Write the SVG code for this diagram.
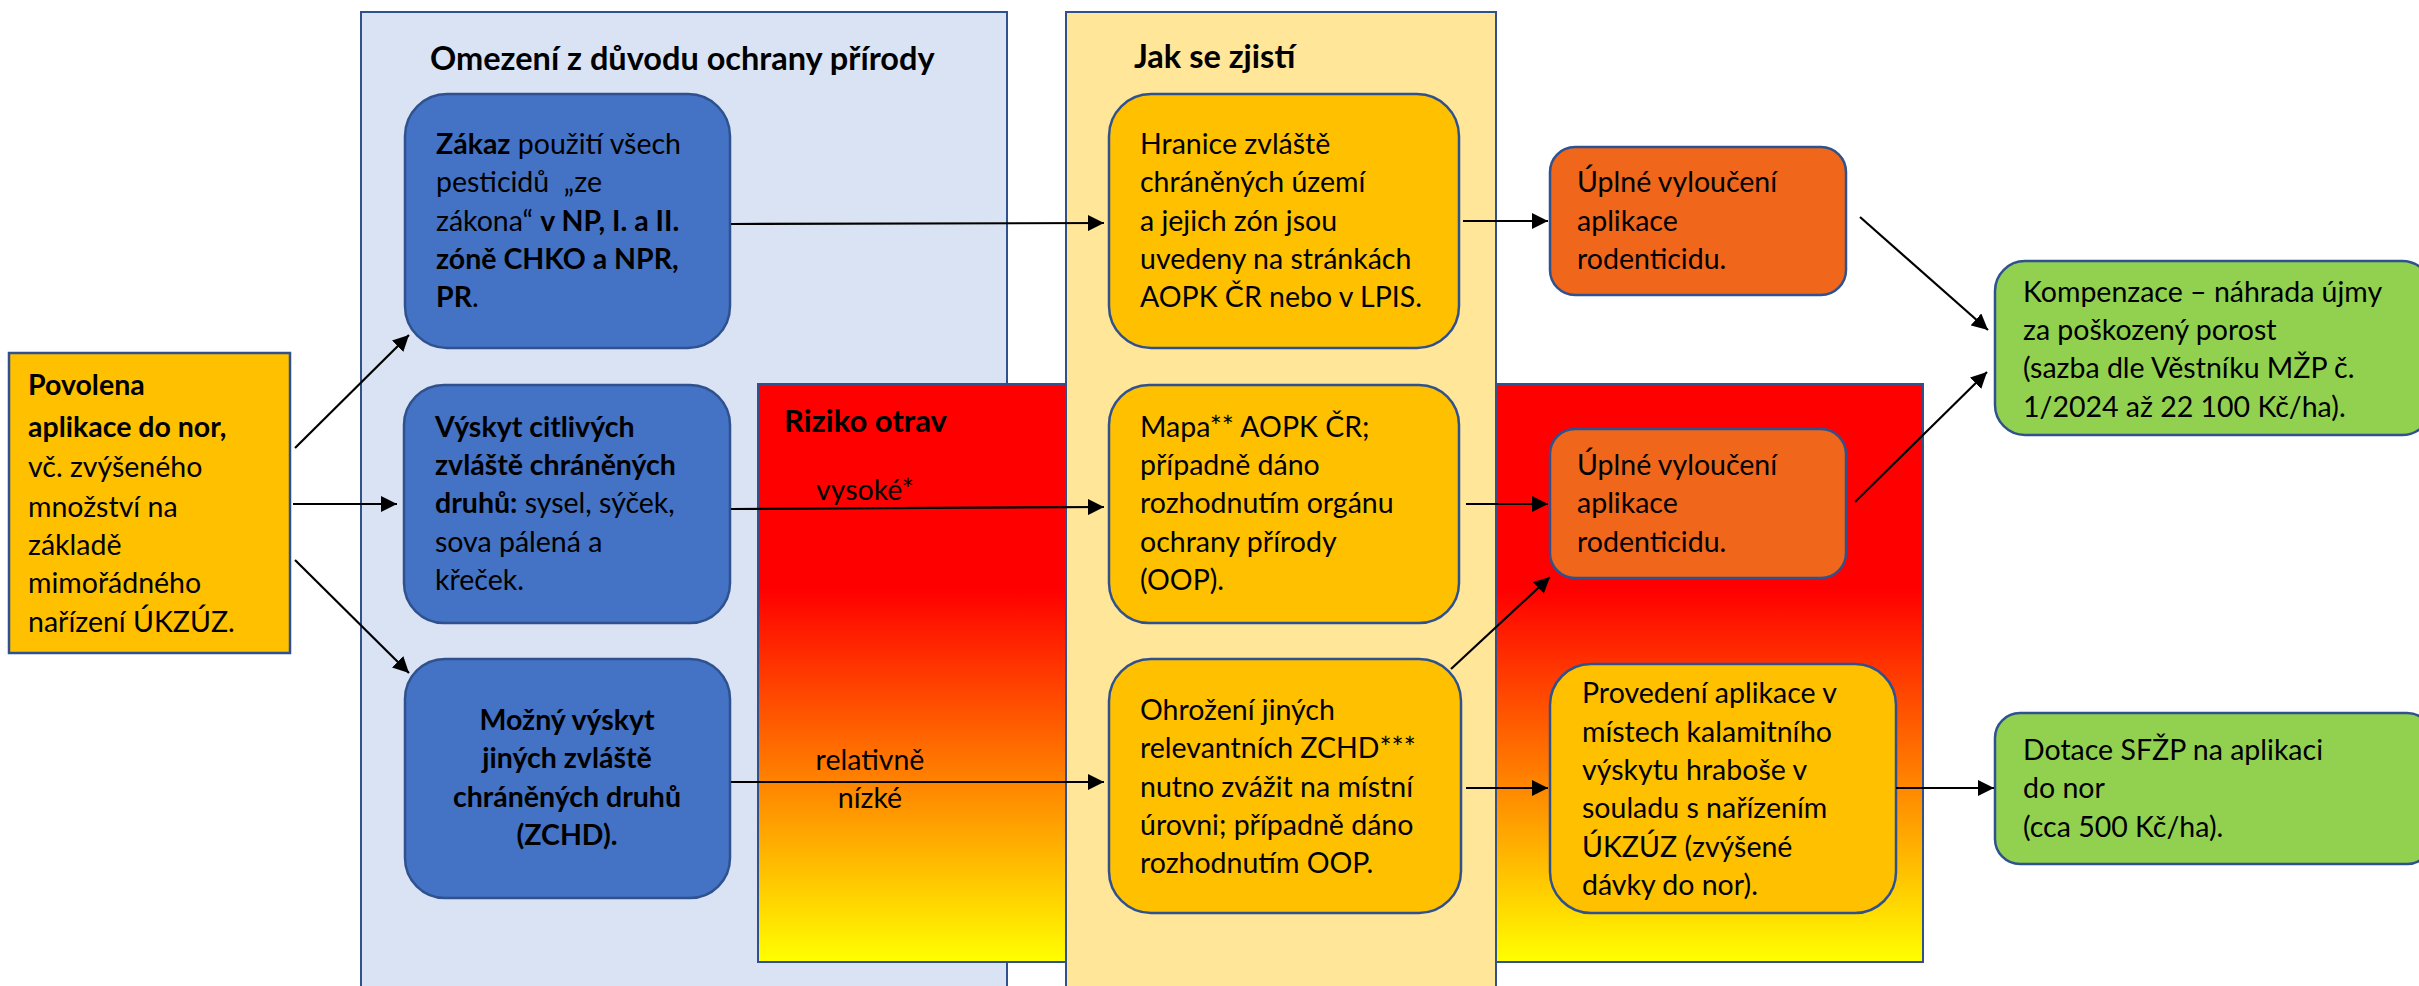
<svg xmlns="http://www.w3.org/2000/svg" width="2419" height="986" viewBox="0 0 2419 986">
<defs>
<linearGradient id="risk" x1="0" y1="0" x2="0" y2="1">
<stop offset="0" stop-color="#FF0000"/>
<stop offset="0.356" stop-color="#FF0000"/>
<stop offset="1" stop-color="#FFFF00"/>
</linearGradient>
<marker id="ah" markerUnits="userSpaceOnUse" markerWidth="16" markerHeight="16" viewBox="0 0 10 10" refX="10" refY="5" orient="auto">
<path d="M0,0 L10,5 L0,10 z" fill="#000"/>
</marker>
<style>
text{font-family:Lato,"Liberation Sans",sans-serif;font-size:28.5px;fill:#000}
.b{font-weight:bold}
.title{font-weight:bold;font-size:32.5px}
.rt{font-weight:bold;font-size:31px}
.panel{stroke:#2F528F;stroke-width:2}
.node{stroke:#2F528F;stroke-width:2.5}
.blue{fill:#4472C4}
.amber{fill:#FFC000}
.org{fill:#F0661A}
.green{fill:#92D050}
.c{text-anchor:middle}
.conn line{stroke:#000;stroke-width:2.2;marker-end:url(#ah)}
</style>
</defs>
<rect width="2419" height="986" fill="#fff"/>

<g id="panel-omezeni">
<rect class="panel" x="361" y="12" width="646" height="990" fill="#DAE3F3"/>
<text class="title" x="430" y="70">Omezení z důvodu ochrany přírody</text>
</g>

<g id="panel-riziko">
<rect class="panel" x="758" y="384" width="1165" height="578" fill="url(#risk)"/>
<text class="rt" x="784" y="432">Riziko otrav</text>
<text x="816" y="500">vysoké*</text>
<text class="c" x="870" y="770">relativně</text>
<text class="c" x="870" y="808">nízké</text>
</g>

<g id="panel-jak">
<rect class="panel" x="1066" y="12" width="430" height="990" fill="#FFE699"/>
<text class="title" x="1134" y="68">Jak se zjistí</text>
</g>

<g id="node-povolena">
<rect class="node amber" x="9" y="353" width="281" height="300"/>
<text x="28" y="395" class="b">Povolena</text>
<text x="28" y="437" class="b">aplikace do nor,</text>
<text x="28" y="477">vč. zvýšeného</text>
<text x="28" y="517">množství na</text>
<text x="28" y="555">základě</text>
<text x="28" y="593">mimořádného</text>
<text x="28" y="632">nařízení ÚKZÚZ.</text>
</g>

<g id="node-zakaz">
<rect class="node blue" x="405" y="94" width="325" height="254" rx="42" ry="42"/>
<text x="436" y="154"><tspan class="b">Zákaz</tspan> použití všech</text>
<text x="436" y="192" xml:space="preserve">pesticidů  „ze</text>
<text x="436" y="231">zákona“ <tspan class="b">v NP, I. a II.</tspan></text>
<text x="436" y="269" class="b">zóně CHKO a NPR,</text>
<text x="436" y="307"><tspan class="b">PR</tspan>.</text>
</g>

<g id="node-vyskyt">
<rect class="node blue" x="404" y="385" width="326" height="238" rx="40" ry="40"/>
<text x="435" y="437" class="b">Výskyt citlivých</text>
<text x="435" y="475" class="b">zvláště chráněných</text>
<text x="435" y="513"><tspan class="b">druhů:</tspan> sysel, sýček,</text>
<text x="435" y="552">sova pálená a</text>
<text x="435" y="590">křeček.</text>
</g>

<g id="node-mozny">
<rect class="node blue" x="405" y="659" width="325" height="239" rx="40" ry="40"/>
<text class="b c" x="567" y="730">Možný výskyt</text>
<text class="b c" x="567" y="768">jiných zvláště</text>
<text class="b c" x="567" y="807">chráněných druhů</text>
<text class="b c" x="567" y="845">(ZCHD).</text>
</g>

<g id="node-hranice">
<rect class="node amber" x="1109" y="94" width="350" height="254" rx="42" ry="42"/>
<text x="1140" y="154">Hranice zvláště</text>
<text x="1140" y="192">chráněných území</text>
<text x="1140" y="231">a jejich zón jsou</text>
<text x="1140" y="269">uvedeny na stránkách</text>
<text x="1140" y="307">AOPK ČR nebo v LPIS.</text>
</g>

<g id="node-mapa">
<rect class="node amber" x="1109" y="385" width="350" height="238" rx="40" ry="40"/>
<text x="1140" y="437">Mapa** AOPK ČR;</text>
<text x="1140" y="475">případně dáno</text>
<text x="1140" y="513">rozhodnutím orgánu</text>
<text x="1140" y="552">ochrany přírody</text>
<text x="1140" y="590">(OOP).</text>
</g>

<g id="node-ohrozeni">
<rect class="node amber" x="1109" y="659" width="352" height="254" rx="42" ry="42"/>
<text x="1140" y="720">Ohrožení jiných</text>
<text x="1140" y="758">relevantních ZCHD***</text>
<text x="1140" y="797">nutno zvážit na místní</text>
<text x="1140" y="835">úrovni; případně dáno</text>
<text x="1140" y="873">rozhodnutím OOP.</text>
</g>

<g id="node-uplne1">
<rect class="node org" x="1550" y="147" width="296" height="148" rx="25" ry="25"/>
<text x="1577" y="192">Úplné vyloučení</text>
<text x="1577" y="231">aplikace</text>
<text x="1577" y="269">rodenticidu.</text>
</g>

<g id="node-uplne2">
<rect class="node org" x="1550" y="429" width="296" height="149" rx="25" ry="25"/>
<text x="1577" y="475">Úplné vyloučení</text>
<text x="1577" y="513">aplikace</text>
<text x="1577" y="552">rodenticidu.</text>
</g>

<g id="node-provedeni">
<rect class="node amber" x="1550" y="664" width="346" height="249" rx="41" ry="41"/>
<text x="1582" y="703">Provedení aplikace v</text>
<text x="1582" y="742">místech kalamitního</text>
<text x="1582" y="780">výskytu hraboše v</text>
<text x="1582" y="818">souladu s nařízením</text>
<text x="1582" y="857">ÚKZÚZ (zvýšené</text>
<text x="1582" y="895">dávky do nor).</text>
</g>

<g id="node-kompenzace">
<rect class="node green" x="1995" y="261" width="437" height="174" rx="30" ry="30"/>
<text x="2023" y="302">Kompenzace – náhrada újmy</text>
<text x="2023" y="340">za poškozený porost</text>
<text x="2023" y="378">(sazba dle Věstníku MŽP č.</text>
<text x="2023" y="417">1/2024 až 22 100 Kč/ha).</text>
</g>

<g id="node-dotace">
<rect class="node green" x="1995" y="713" width="437" height="151" rx="25" ry="25"/>
<text x="2023" y="760">Dotace SFŽP na aplikaci</text>
<text x="2023" y="798">do nor</text>
<text x="2023" y="837">(cca 500 Kč/ha).</text>
</g>

<g id="connectors" class="conn">
<line x1="295" y1="448" x2="409" y2="335"/>
<line x1="293" y1="504" x2="397" y2="504"/>
<line x1="295" y1="560" x2="409" y2="673"/>
<line x1="731" y1="224" x2="1104" y2="223"/>
<line x1="731" y1="509" x2="1104" y2="507"/>
<line x1="731" y1="782" x2="1104" y2="782"/>
<line x1="1463" y1="221" x2="1548" y2="221"/>
<line x1="1466" y1="504" x2="1548" y2="504"/>
<line x1="1466" y1="788" x2="1548" y2="788"/>
<line x1="1896" y1="788" x2="1994" y2="788"/>
<line x1="1860" y1="217" x2="1988" y2="330"/>
<line x1="1855" y1="502" x2="1987" y2="372"/>
<line x1="1451" y1="669" x2="1550" y2="577"/>
</g>
</svg>
